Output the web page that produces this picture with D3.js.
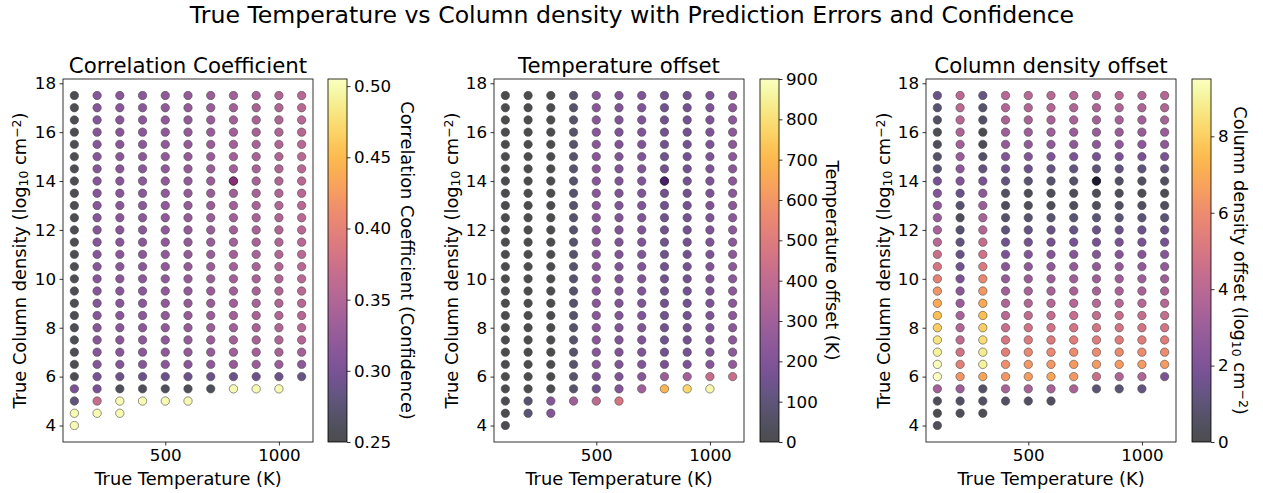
<!DOCTYPE html>
<html>
<head>
<meta charset="utf-8">
<script src="https://cdn.jsdelivr.net/npm/d3@7"></script>
<style>
  body { margin: 0; background: #fff; }
  text { font-family: "DejaVu Sans", sans-serif; fill: #000; }
</style>
</head>
<body>
<div id="chart"></div>
<script>
// grid of true values
const temps = [100, 200, 300, 400, 500, 600, 700, 800, 900, 1000, 1100];
const densities = [17.5, 17.0, 16.5, 16.0, 15.5, 15.0, 14.5, 14.0, 13.5, 13.0, 12.5, 12.0, 11.5, 11.0,
  10.5, 10.0, 9.5, 9.0, 8.5, 8.0, 7.5, 7.0, 6.5, 6.0, 5.5, 5.0, 4.5, 4.0];

// correlation coefficient, one row per density (top to bottom)
const corrRows = [
  [0.255, 0.312, 0.315, 0.318, 0.321, 0.325, 0.330, 0.337, 0.343, 0.350, 0.357],
  [0.255, 0.312, 0.315, 0.318, 0.321, 0.325, 0.330, 0.337, 0.343, 0.350, 0.357],
  [0.255, 0.312, 0.315, 0.318, 0.321, 0.325, 0.330, 0.337, 0.343, 0.350, 0.357],
  [0.254, 0.312, 0.315, 0.318, 0.321, 0.325, 0.330, 0.337, 0.343, 0.350, 0.356],
  [0.255, 0.312, 0.315, 0.318, 0.321, 0.325, 0.330, 0.337, 0.343, 0.350, 0.357],
  [0.255, 0.312, 0.315, 0.318, 0.321, 0.325, 0.330, 0.337, 0.343, 0.350, 0.357],
  [0.255, 0.312, 0.315, 0.318, 0.321, 0.325, 0.330, 0.337, 0.343, 0.350, 0.357],
  [0.255, 0.312, 0.315, 0.318, 0.321, 0.325, 0.330, 0.337, 0.343, 0.350, 0.357],
  [0.255, 0.312, 0.315, 0.318, 0.321, 0.325, 0.330, 0.337, 0.343, 0.350, 0.357],
  [0.255, 0.312, 0.315, 0.318, 0.321, 0.325, 0.330, 0.337, 0.343, 0.350, 0.357],
  [0.255, 0.312, 0.315, 0.318, 0.321, 0.325, 0.330, 0.337, 0.343, 0.350, 0.357],
  [0.255, 0.312, 0.315, 0.318, 0.321, 0.325, 0.330, 0.337, 0.343, 0.350, 0.357],
  [0.255, 0.312, 0.315, 0.318, 0.321, 0.325, 0.330, 0.337, 0.343, 0.350, 0.357],
  [0.255, 0.312, 0.315, 0.318, 0.321, 0.325, 0.330, 0.337, 0.343, 0.350, 0.357],
  [0.255, 0.312, 0.315, 0.318, 0.321, 0.325, 0.330, 0.337, 0.343, 0.350, 0.357],
  [0.255, 0.312, 0.315, 0.318, 0.321, 0.325, 0.330, 0.337, 0.343, 0.350, 0.357],
  [0.255, 0.312, 0.315, 0.318, 0.321, 0.325, 0.330, 0.337, 0.343, 0.350, 0.357],
  [0.255, 0.312, 0.315, 0.318, 0.321, 0.325, 0.330, 0.337, 0.343, 0.350, 0.356],
  [0.255, 0.312, 0.315, 0.318, 0.321, 0.325, 0.330, 0.337, 0.343, 0.350, 0.355],
  [0.255, 0.312, 0.315, 0.318, 0.321, 0.325, 0.330, 0.337, 0.343, 0.350, 0.355],
  [0.255, 0.312, 0.315, 0.318, 0.321, 0.325, 0.330, 0.337, 0.343, 0.348, 0.352],
  [0.255, 0.312, 0.314, 0.317, 0.320, 0.324, 0.328, 0.334, 0.340, 0.342, 0.340],
  [0.255, 0.310, 0.310, 0.310, 0.315, 0.315, 0.320, 0.325, 0.330, 0.330, 0.318],
  [0.255, 0.300, 0.290, 0.290, 0.290, 0.290, 0.290, 0.290, 0.290, 0.290, 0.285],
  [0.300, 0.300, 0.260, 0.260, 0.260, 0.260, 0.260, 0.500, 0.500, 0.500, null],
  [0.280, 0.370, 0.500, 0.500, 0.500, 0.500, null, null, null, null, null],
  [0.500, 0.500, 0.500, null, null, null, null, null, null, null, null],
  [0.500, null, null, null, null, null, null, null, null, null, null]
];

// temperature offset (K)
const tOffRows = [
  [10, 10, 10, 80, 230, 205, 205, 160, 165, 200, 240],
  [10, 10, 10, 80, 230, 205, 205, 160, 165, 200, 240],
  [10, 10, 10, 80, 230, 205, 205, 160, 165, 200, 240],
  [10, 10, 10, 80, 230, 205, 205, 160, 165, 200, 240],
  [10, 10, 10, 80, 230, 205, 205, 160, 165, 200, 240],
  [10, 10, 10, 80, 230, 205, 205, 160, 165, 200, 240],
  [10, 10, 10, 80, 230, 205, 205, 160, 165, 200, 240],
  [10, 10, 10, 80, 230, 205, 205, 160, 165, 200, 240],
  [10, 10, 10, 80, 230, 205, 205, 160, 165, 200, 240],
  [10, 10, 10, 80, 230, 205, 205, 160, 165, 200, 240],
  [10, 10, 10, 80, 230, 205, 205, 160, 165, 200, 240],
  [10, 10, 10, 80, 230, 205, 205, 160, 165, 200, 240],
  [10, 10, 10, 80, 230, 205, 205, 160, 165, 200, 240],
  [10, 10, 10, 80, 230, 205, 205, 160, 165, 200, 240],
  [10, 10, 10, 80, 230, 205, 205, 160, 165, 200, 240],
  [10, 10, 10, 80, 230, 205, 205, 160, 165, 200, 240],
  [10, 10, 10, 80, 230, 205, 205, 160, 165, 200, 240],
  [10, 10, 10, 80, 230, 205, 205, 160, 165, 200, 240],
  [10, 10, 10, 80, 230, 205, 205, 160, 165, 200, 240],
  [10, 10, 10, 80, 230, 205, 205, 160, 165, 200, 240],
  [10, 10, 10, 80, 230, 205, 205, 160, 165, 200, 240],
  [10, 10, 10, 80, 230, 205, 205, 165, 170, 205, 245],
  [10, 10, 10, 80, 225, 205, 210, 180, 190, 220, 260],
  [10, 10, 10, 80, 190, 200, 220, 290, 310, 420, 430],
  [10, 10, 10, 80, 150, 210, 300, 690, 780, 875, null],
  [15, 80, 220, 300, 400, 470, null, null, null, null, null],
  [10, 90, 215, null, null, null, null, null, null, null, null],
  [15, null, null, null, null, null, null, null, null, null, null]
];

// column density offset (log10 cm^-2)
const nOffRows = [
  [1.4, 4.1, 1.3, 4.0, 4.0, 4.0, 3.9, 3.8, 4.0, 3.8, 3.9],
  [0.8, 4.1, 0.8, 3.8, 3.8, 3.8, 3.7, 3.6, 3.7, 3.6, 3.7],
  [0.6, 4.0, 0.6, 3.5, 3.5, 3.5, 3.4, 3.3, 3.4, 3.3, 3.4],
  [0.2, 3.6, 0.1, 3.1, 3.1, 3.1, 3.0, 2.9, 3.0, 2.9, 3.0],
  [0.3, 3.3, 0.2, 2.7, 2.7, 2.7, 2.6, 2.5, 2.6, 2.5, 2.6],
  [0.7, 2.9, 0.6, 2.2, 2.2, 2.1, 2.0, 1.9, 2.0, 1.9, 2.0],
  [1.0, 2.5, 1.2, 1.6, 1.5, 1.3, 1.2, 1.1, 1.2, 1.1, 1.2],
  [1.8, 2.2, 1.9, 1.2, 0.9, 0.8, 0.7, 0.5, 0.6, 0.5, 0.5],
  [2.2, 1.5, 2.6, 0.6, 0.3, 0.3, 0.3, 0.3, 0.3, 0.2, 0.2],
  [2.6, 0.8, 3.0, 0.4, 0.4, 0.3, 0.4, 0.4, 0.5, 0.5, 0.5],
  [3.0, 0.3, 3.4, 0.7, 0.8, 0.9, 0.9, 1.0, 1.0, 1.0, 1.0],
  [3.4, 0.8, 3.8, 1.1, 1.3, 1.4, 1.4, 1.5, 1.5, 1.5, 1.5],
  [4.0, 1.2, 4.4, 1.6, 1.8, 1.8, 1.9, 1.9, 1.9, 1.9, 1.9],
  [4.6, 1.4, 4.8, 2.0, 2.2, 2.3, 2.3, 2.3, 2.3, 2.3, 2.3],
  [5.0, 1.7, 5.2, 2.4, 2.6, 2.6, 2.7, 2.7, 2.7, 2.7, 2.7],
  [5.6, 2.0, 5.8, 2.8, 3.0, 3.0, 3.1, 3.1, 3.1, 3.1, 3.1],
  [6.3, 2.5, 6.4, 3.2, 3.4, 3.4, 3.5, 3.5, 3.5, 3.5, 3.5],
  [7.0, 3.0, 7.0, 3.6, 3.8, 3.9, 3.9, 3.9, 3.9, 3.9, 3.9],
  [7.6, 3.4, 7.6, 4.0, 4.3, 4.3, 4.4, 4.4, 4.4, 4.4, 4.4],
  [8.0, 3.8, 8.0, 4.5, 4.8, 4.8, 4.9, 4.9, 4.9, 4.9, 4.9],
  [8.6, 4.3, 8.4, 5.0, 5.3, 5.3, 5.4, 5.4, 5.4, 5.4, 5.4],
  [9.0, 4.8, 8.8, 5.5, 5.9, 5.9, 6.0, 6.0, 6.0, 6.0, 6.0],
  [9.4, 5.5, 9.0, 6.1, 6.4, 6.4, 6.5, 6.5, 6.5, 6.5, 6.5],
  [9.5, 6.3, 6.8, 6.4, 6.6, 6.8, 6.4, 4.6, 3.6, 3.6, 2.0],
  [3.3, 3.0, 0.7, 3.4, 3.4, 3.4, 3.5, 1.0, 1.0, 1.2, null],
  [0.3, 0.6, 0.6, 0.6, 0.6, 0.5, null, null, null, null, null],
  [0.1, 0.3, 0.2, null, null, null, null, null, null, null, null],
  [0.4, null, null, null, null, null, null, null, null, null, null]
];

// duplicated sample at T=800, N=14 (drawn a second time on top)
const dupTemp = 800;
const dupDensity = 14.0;

const panels = [
  { title: "Correlation Coefficient", rows: corrRows, domain: [0.25, 0.505],
    ticks: [0.25, 0.30, 0.35, 0.40, 0.45, 0.50], fmt: d3.format(".2f"),
    cbLabel: [{ t: "Correlation Coefficient (Confidence)" }],
    ax: [63, 313], cb: [328, 347], cbLabelX: 407, yLabelX: 20 },
  { title: "Temperature offset", rows: tOffRows, domain: [0, 900],
    ticks: [0, 100, 200, 300, 400, 500, 600, 700, 800, 900], fmt: d3.format("d"),
    cbLabel: [{ t: "Temperature offset (K)" }],
    ax: [494, 744], cb: [760, 779], cbLabelX: 832, yLabelX: 452 },
  { title: "Column density offset", rows: nOffRows, domain: [0, 9.5],
    ticks: [0, 2, 4, 6, 8], fmt: d3.format("d"),
    cbLabel: [{ t: "Column density offset (log" }, { t: "10", sub: true }, { t: " cm" }, { t: "−2", sup: true }, { t: ")" }],
    ax: [926, 1176], cb: [1192, 1211], cbLabelX: 1240, yLabelX: 884 }
];

const W = 1263, H = 493;
const axTop = 79, axBottom = 442;
const alpha = 0.7;
const tickFont = "16.7px", labelFont = 17.8;

const svg = d3.select("#chart").append("svg")
  .attr("width", W).attr("height", H);

svg.append("text")
  .attr("x", 632).attr("y", 23)
  .attr("text-anchor", "middle")
  .style("font-size", "23.6px")
  .text("True Temperature vs Column density with Prediction Errors and Confidence");

const defs = svg.append("defs");

function richText(sel, parts, size) {
  parts.forEach(p => {
    const ts = sel.append("tspan").text(p.t);
    if (p.sub) ts.style("font-size", (size * 0.7) + "px").attr("baseline-shift", "-20%");
    if (p.sup) ts.style("font-size", (size * 0.7) + "px").attr("baseline-shift", "40%");
  });
}

panels.forEach((p, i) => {
  const x = d3.scaleLinear().domain([50, 1150]).range(p.ax);
  const y = d3.scaleLinear().domain([3.325, 18.175]).range([axBottom, axTop]);
  const color = d3.scaleSequential(d3.interpolateInferno).domain(p.domain);

  const g = svg.append("g");

  // points
  const pts = [];
  p.rows.forEach((row, r) => row.forEach((v, c) => {
    if (v !== null) pts.push({ t: temps[c], n: densities[r], v: v });
  }));
  const dup = pts.find(d => d.t === dupTemp && d.n === dupDensity);
  if (dup) pts.push(dup);

  g.selectAll("circle").data(pts).enter().append("circle")
    .attr("cx", d => x(d.t))
    .attr("cy", d => y(d.n))
    .attr("r", 4.2)
    .attr("fill", d => color(d.v))
    .attr("stroke", "#000")
    .attr("stroke-width", 0.6)
    .attr("opacity", alpha);

  // axes
  const xAxis = g.append("g").attr("transform", `translate(0,${axBottom})`)
    .call(d3.axisBottom(x).tickValues([500, 1000]).tickFormat(d3.format("d")).tickSize(3.5).tickPadding(3.5));
  const yAxis = g.append("g").attr("transform", `translate(${p.ax[0]},0)`)
    .call(d3.axisLeft(y).tickValues([4, 6, 8, 10, 12, 14, 16, 18]).tickFormat(d3.format("d")).tickSize(3.5).tickPadding(3.5));
  [xAxis, yAxis].forEach(a => {
    a.select(".domain").remove();
    a.selectAll("text").style("font-size", tickFont).style("font-family", "DejaVu Sans");
    a.selectAll("line").attr("stroke", "#000").attr("stroke-width", 0.8);
  });

  g.append("rect")
    .attr("x", p.ax[0]).attr("y", axTop)
    .attr("width", p.ax[1] - p.ax[0]).attr("height", axBottom - axTop)
    .attr("fill", "none").attr("stroke", "#000").attr("stroke-width", 0.8);

  g.append("text")
    .attr("x", (p.ax[0] + p.ax[1]) / 2).attr("y", axTop - 6)
    .attr("text-anchor", "middle")
    .style("font-size", "21.3px")
    .text(p.title);

  g.append("text")
    .attr("x", (p.ax[0] + p.ax[1]) / 2).attr("y", 485)
    .attr("text-anchor", "middle")
    .style("font-size", labelFont + "px")
    .text("True Temperature (K)");

  const yl = g.append("text")
    .attr("transform", `translate(${p.yLabelX},${(axTop + axBottom) / 2}) rotate(-90)`)
    .attr("text-anchor", "middle")
    .attr("dy", "0.35em")
    .style("font-size", labelFont + "px");
  richText(yl, [{ t: "True Column density (log" }, { t: "10", sub: true }, { t: " cm" }, { t: "−2", sup: true }, { t: ")" }], labelFont);

  // colorbar
  const gid = "grad" + i;
  const grad = defs.append("linearGradient").attr("id", gid)
    .attr("x1", 0).attr("y1", 1).attr("x2", 0).attr("y2", 0);
  d3.range(0, 1.0001, 0.02).forEach(s => {
    grad.append("stop").attr("offset", s).attr("stop-color", d3.interpolateInferno(s));
  });
  g.append("rect")
    .attr("x", p.cb[0]).attr("y", axTop)
    .attr("width", p.cb[1] - p.cb[0]).attr("height", axBottom - axTop)
    .attr("fill", `url(#${gid})`).attr("opacity", alpha);
  g.append("rect")
    .attr("x", p.cb[0]).attr("y", axTop)
    .attr("width", p.cb[1] - p.cb[0]).attr("height", axBottom - axTop)
    .attr("fill", "none").attr("stroke", "#000").attr("stroke-width", 0.8);

  const cy = d3.scaleLinear().domain(p.domain).range([axBottom, axTop]);
  const cAxis = g.append("g").attr("transform", `translate(${p.cb[1]},0)`)
    .call(d3.axisRight(cy).tickValues(p.ticks).tickFormat(p.fmt).tickSize(3.5).tickPadding(3.5));
  cAxis.select(".domain").remove();
  cAxis.selectAll("text").style("font-size", tickFont).style("font-family", "DejaVu Sans");
  cAxis.selectAll("line").attr("stroke", "#000").attr("stroke-width", 0.8);

  const cl = g.append("text")
    .attr("transform", `translate(${p.cbLabelX},${(axTop + axBottom) / 2}) rotate(90)`)
    .attr("text-anchor", "middle")
    .attr("dy", "0.35em")
    .style("font-size", labelFont + "px");
  richText(cl, p.cbLabel, labelFont);
});
</script>
</body>
</html>
